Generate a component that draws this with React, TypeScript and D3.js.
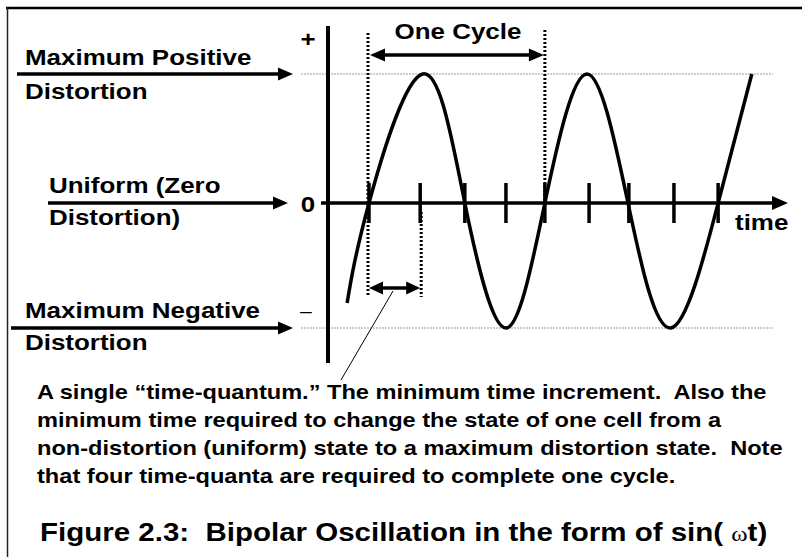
import React from 'react';
import * as d3 from 'd3';

// ---- data ----
const quantumTicks = [0, 1.17, 2.19, 3.13, 4.02, 5.03, 5.94, 6.97, 7.98];
const waveTime = [-0.5, 0, 1.23, 2.19, 3.13, 4.02, 4.98, 5.92, 6.9, 7.98, 8.75];
const waveValue = [-0.8, 0, 1, 0, -1, 0, 1, 0, -1, 0, 1];
const levelValues = [1, 0, -1];
const levelLabels = [
  ['Maximum Positive', 'Distortion'],
  ['Uniform (Zero', 'Distortion)'],
  ['Maximum Negative', 'Distortion'],
];
const levelSigns = ['+', '0', '–'];
const cycleLabel = 'One Cycle';
const axisLabel = 'time';
const noteLines = [
  'A single “time-quantum.” The minimum time increment.  Also the',
  'minimum time required to change the state of one cell from a',
  'non-distortion (uniform) state to a maximum distortion state.  Note',
  'that four time-quanta are required to complete one cycle.',
];
const captionMain = 'Figure 2.3:  Bipolar Oscillation in the form of sin( ';
const captionOmega = 'ω';
const captionEnd = 't)';

// ---- layout ----
const W = 802;
const H = 557;
const SX = 1.18;
const FONT = "'Liberation Sans', Arial, Helvetica, sans-serif";

const x = d3.scaleLinear().domain([0, 8]).range([369, 719]);
const y = d3.scaleLinear().domain([-1, 0, 1]).range([328, 203, 74]);

const yAxisX = 328;
const labelLayout = [
  { lx: 25, b1: -9, b2: 25, a0: 17, a1: 293 },
  { lx: 49, b1: -10, b2: 22, a0: 48, a1: 288 },
  { lx: 25, b1: -10, b2: 22, a0: 11, a1: 293 },
];
const signLayout = [
  { x: 308, y: 47, size: 22, weight: 'bold' },
  { x: 308, y: 212, size: 22, weight: 'bold' },
  { x: 306, y: 317, size: 18, weight: 'normal' },
];

function headRight(tx: number, ty: number, len = 15, half = 6.5) {
  return `${tx},${ty} ${tx - len},${ty - half} ${tx - len},${ty + half}`;
}
function headLeft(tx: number, ty: number, len = 15, half = 6.5) {
  return `${tx},${ty} ${tx + len},${ty - half} ${tx + len},${ty + half}`;
}

function T(props: {
  x: number; y: number; size: number; anchor?: string; weight?: string; children: React.ReactNode;
}) {
  const { x: tx, y: ty, size, anchor = 'start', weight = 'bold', children } = props;
  return (
    <text
      transform={`translate(${tx},${ty}) scale(${SX},1)`}
      fontFamily={FONT}
      fontSize={size}
      fontWeight={weight}
      textAnchor={anchor}
      fill="#000"
      style={{ whiteSpace: 'pre' }}
    >
      {children}
    </text>
  );
}

export default function App() {
  const pts = waveTime.map((t, i) => [x(t), y(waveValue[i])] as [number, number]);
  const wave = d3.line().curve(d3.curveNatural)(pts) || '';
  const y0 = y(0);
  const cycleY = 55;
  const quantY = 288;
  const xc0 = x(waveTime[1]);
  const xc1 = x(waveTime[5]);
  const xq0 = x(quantumTicks[0]);
  const xq1 = x(quantumTicks[1]);

  return (
    <svg
      width={W}
      height={H}
      style={{ position: 'absolute', left: 0, top: 0, background: '#fff' }}
    >
      <rect x={0} y={0} width={W} height={H} fill="#fff" />
      {/* frame */}
      <line x1={6} x2={W} y1={8} y2={8} stroke="#000" strokeWidth={2.5} />
      <line x1={7.5} x2={7.5} y1={7} y2={H} stroke="#222" strokeWidth={1.5} />

      {/* gray dotted level lines */}
      {[1, -1].map((v) => (
        <line key={v} x1={301} x2={773} y1={y(v)} y2={y(v)} stroke="#9a9a9a"
          strokeWidth={1} strokeDasharray="2,1" />
      ))}

      {/* vertical dotted markers */}
      <line x1={xq0 - 1} x2={xq0 - 1} y1={33} y2={297} stroke="#000" strokeWidth={3} strokeDasharray="2,2" />
      <line x1={xq1 + 1} x2={xq1 + 1} y1={212} y2={297} stroke="#000" strokeWidth={3} strokeDasharray="2,2" />
      <line x1={xc1} x2={xc1} y1={30} y2={y0} stroke="#000" strokeWidth={3} strokeDasharray="2,2" />

      {/* axes */}
      <line x1={yAxisX} x2={yAxisX} y1={26} y2={363} stroke="#000" strokeWidth={4} />
      <line x1={321} x2={775} y1={y0} y2={y0} stroke="#000" strokeWidth={3.5} />
      <polygon points={headRight(788, y0, 16, 7)} fill="#000" />

      {/* ticks */}
      {quantumTicks.map((t) => (
        <line key={t} x1={x(t)} x2={x(t)} y1={y0 - 20} y2={y0 + 20} stroke="#000" strokeWidth={3.5} />
      ))}

      {/* wave */}
      <path d={wave} fill="none" stroke="#000" strokeWidth={3.5} />

      {/* One cycle arrow */}
      <line x1={xc0 + 10} x2={xc1 - 10} y1={cycleY} y2={cycleY} stroke="#000" strokeWidth={3.5} />
      <polygon points={headLeft(xc0 + 1, cycleY, 15, 6.5)} fill="#000" />
      <polygon points={headRight(xc1 - 1, cycleY, 15, 6.5)} fill="#000" />
      <T x={(xc0 + xc1) / 2 + 1} y={39} size={22} anchor="middle">{cycleLabel}</T>

      {/* time quantum arrow */}
      <line x1={xq0 + 8} x2={xq1 - 8} y1={quantY} y2={quantY} stroke="#000" strokeWidth={3.5} />
      <polygon points={headLeft(xq0, quantY, 14, 6.5)} fill="#000" />
      <polygon points={headRight(xq1, quantY, 14, 6.5)} fill="#000" />
      <line x1={393} y1={291} x2={341} y2={380} stroke="#000" strokeWidth={1} />

      {/* level labels with arrows */}
      {levelValues.map((v, i) => {
        const L = labelLayout[i];
        const ly = y(v);
        return (
          <g key={v}>
            <line x1={L.a0} x2={L.a1 - 10} y1={ly} y2={ly} stroke="#000" strokeWidth={3.5} />
            <polygon points={headRight(L.a1, ly, 15, 6.5)} fill="#000" />
            <T x={L.lx} y={ly + L.b1} size={22}>{levelLabels[i][0]}</T>
            <T x={L.lx} y={ly + L.b2} size={22}>{levelLabels[i][1]}</T>
            <T x={signLayout[i].x} y={signLayout[i].y} size={signLayout[i].size}
              anchor="middle" weight={signLayout[i].weight}>{levelSigns[i]}</T>
          </g>
        );
      })}

      <T x={735} y={230} size={22}>{axisLabel}</T>

      {/* note */}
      {noteLines.map((s, i) => (
        <T key={i} x={37} y={399 + i * 28} size={20}>{s}</T>
      ))}

      {/* caption */}
      <text
        transform={`translate(40,541) scale(${SX},1)`}
        fontFamily={FONT}
        fontSize={25}
        fontWeight="bold"
        fill="#000"
        style={{ whiteSpace: 'pre' }}
      >
        {captionMain}
        <tspan fontFamily="'Liberation Serif', 'DejaVu Serif', serif" fontWeight="normal" fontSize={21}>{captionOmega}</tspan>
        {captionEnd}
      </text>
    </svg>
  );
}
